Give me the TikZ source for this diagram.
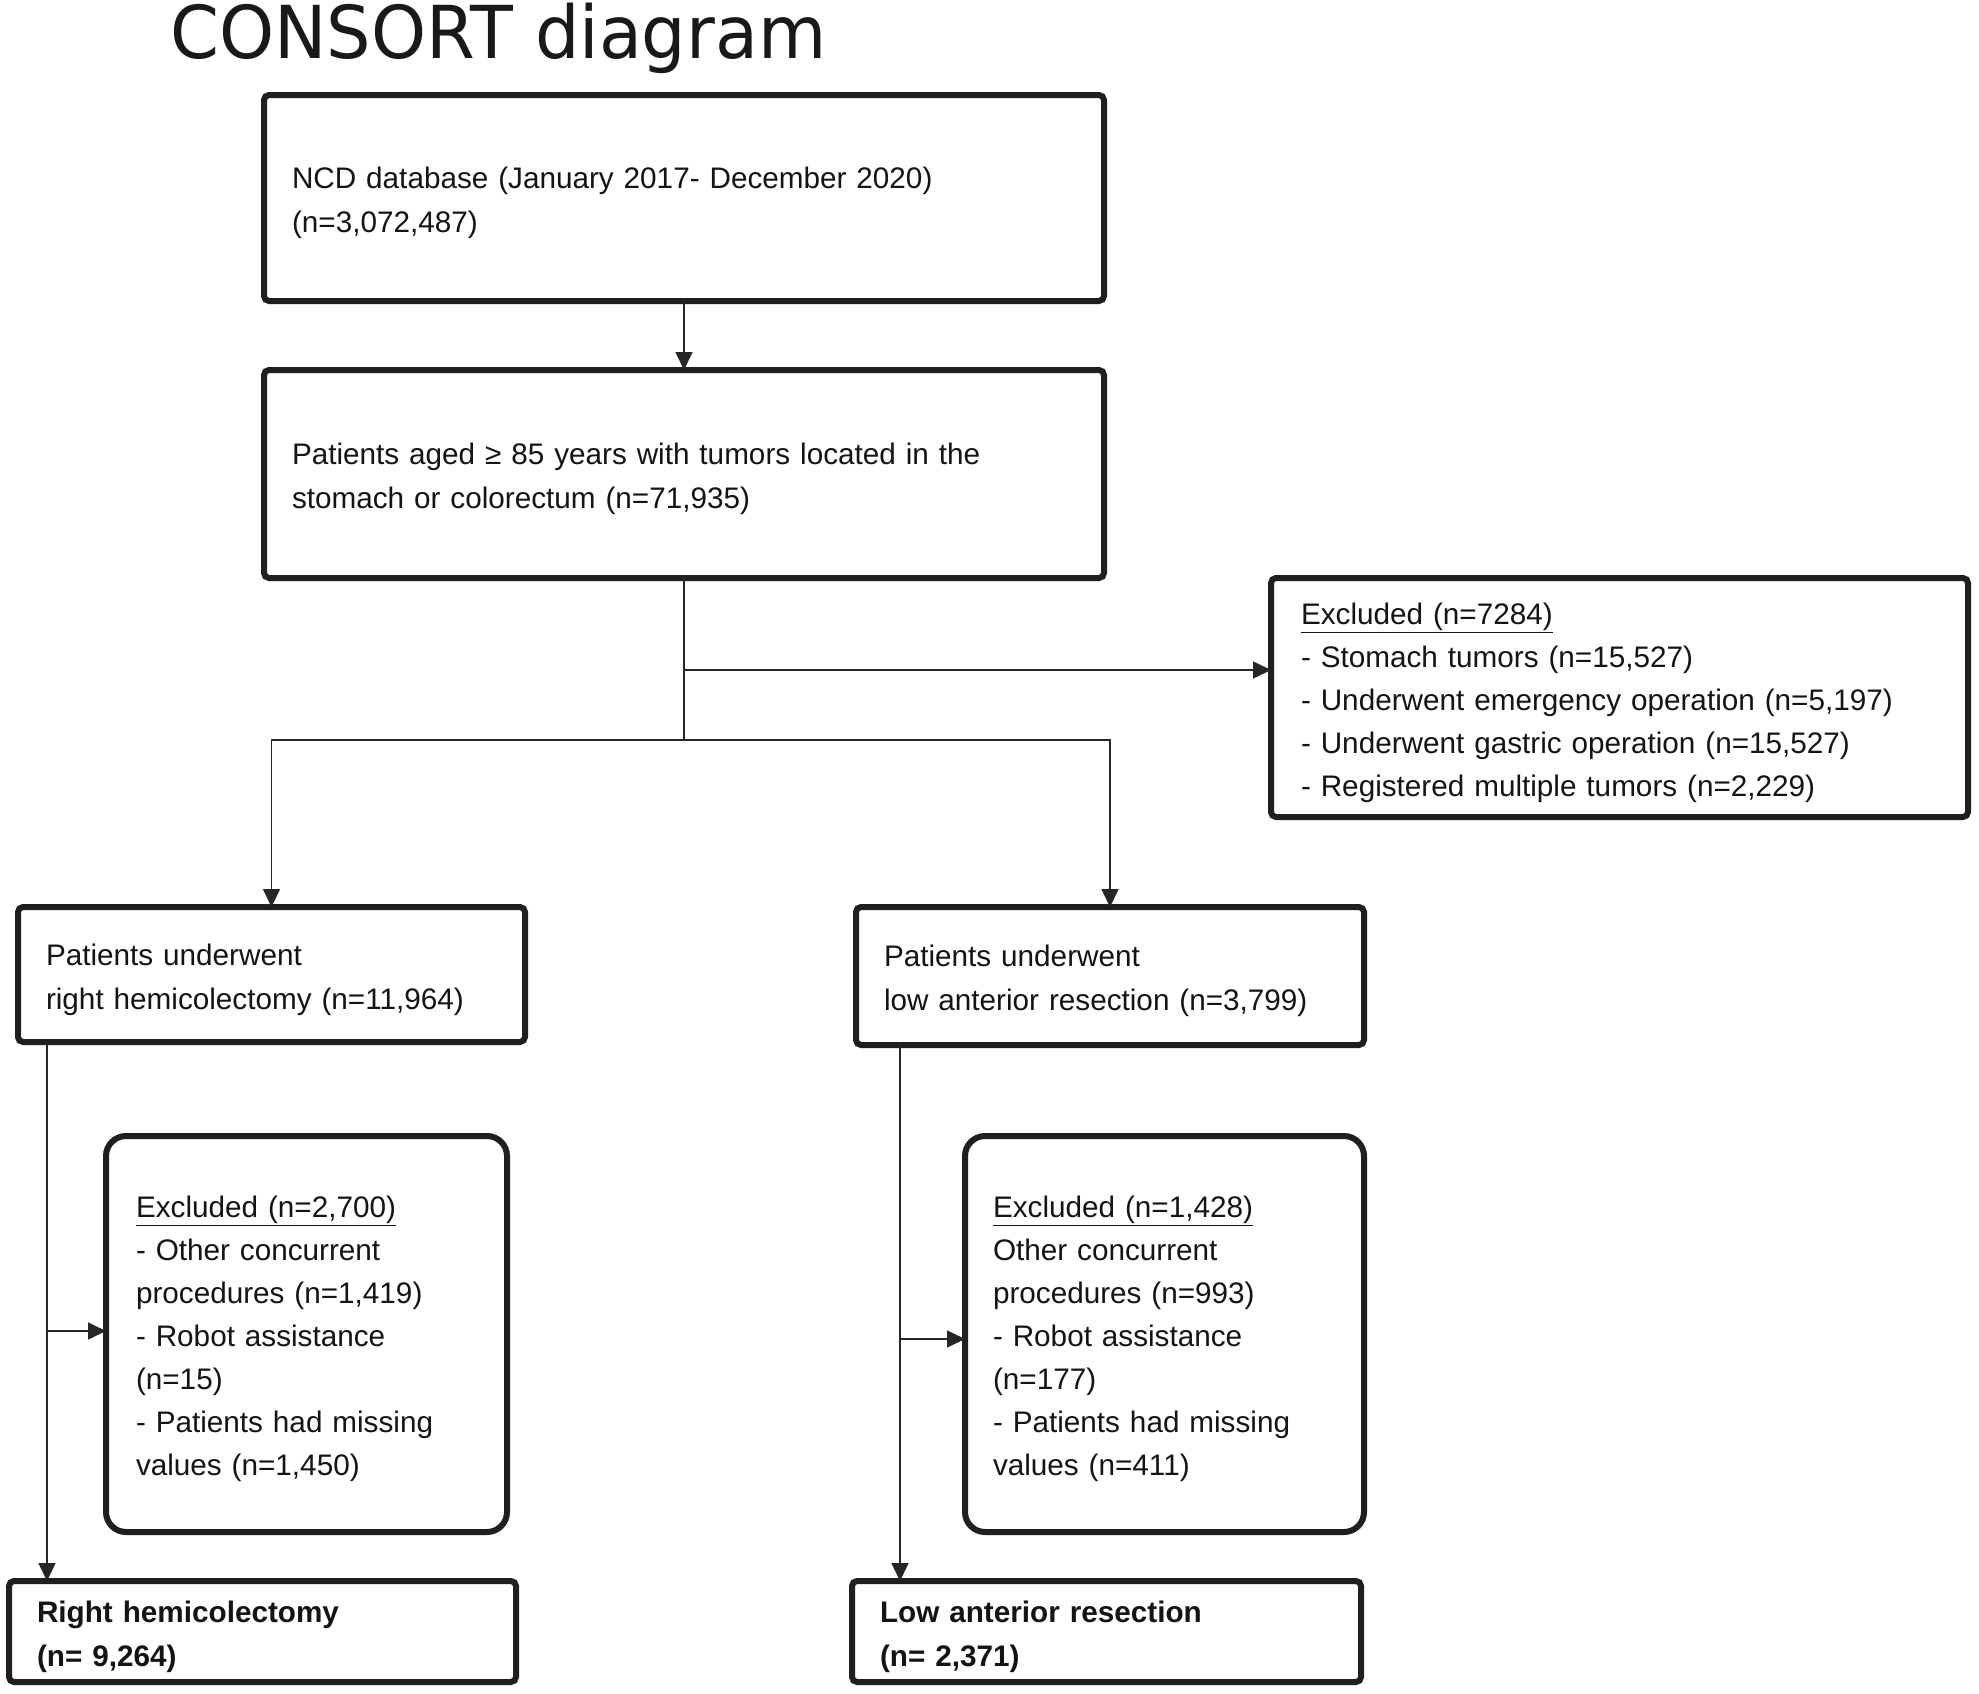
\documentclass[tikz,border=0pt]{standalone}
\usepackage{fontspec}
\setmainfont{Liberation Sans}
\newfontfamily\titlefont[FakeStretch=0.96]{DejaVu Sans}
\usetikzlibrary{arrows.meta}
\newcommand\topstrut{\rule{0pt}{32pt}}
\begin{document}
\begin{tikzpicture}[x=1pt,y=-1pt,
  box/.style={draw=black!88, line width=6pt, rectangle, rounded corners=5pt,
    align=left, inner xsep=28pt, inner ysep=0pt, outer sep=0pt,
    font=\fontsize{29.7}{44}\selectfont, text=black!92, anchor=center},
  exbox/.style={box, rounded corners=20pt, font=\fontsize{29.7}{43}\selectfont},
  boldbox/.style={box, font=\fontsize{29.7}{44}\selectfont\bfseries},
  conn/.style={draw=black!85, line width=1.5pt},
  arr/.style={conn, -{Triangle[length=18pt,width=17pt]}}
]
\useasboundingbox (0,0) rectangle (1979,1694);
\fill[white] (0,0) rectangle (1979,1694);

\node[anchor=base west, inner sep=0pt, text=black!90,
  font=\titlefont\fontsize{73}{80}\selectfont] (title) at (170,59) {CONSORT diagram};

\node[box, minimum width=840pt, minimum height=206pt, text width=784pt] (b1) at (684,198)
  {\topstrut NCD database (January 2017- December 2020)\\(n=3,072,487)};
\node[box, minimum width=840pt, minimum height=208pt, text width=784pt] (b2) at (684,474)
  {\topstrut Patients aged ≥ 85 years with tumors located in the\\stomach or colorectum (n=71,935)};
\node[box, inner xsep=30pt, minimum width=697pt, minimum height=239pt, text width=637pt, font=\fontsize{29.7}{43}\selectfont] (b3) at (1619.5,697.5)
  {\topstrut\underline{Excluded (n=7284)}\\- Stomach tumors (n=15,527)\\- Underwent emergency operation (n=5,197)\\- Underwent gastric operation (n=15,527)\\- Registered multiple tumors (n=2,229)};
\node[box, inner xsep=27pt, minimum width=507pt, minimum height=135pt, text width=451pt] (b4) at (271.5,974.5)
  {\topstrut Patients underwent\\right hemicolectomy (n=11,964)};
\node[box, minimum width=508pt, minimum height=138pt, text width=452pt] (b5) at (1110,976)
  {\topstrut Patients underwent\\low anterior resection (n=3,799)};
\node[exbox, inner xsep=30pt, minimum width=401pt, minimum height=396pt, text width=341pt] (b6) at (306.5,1334)
  {\topstrut\underline{Excluded (n=2,700)}\\- Other concurrent\\procedures (n=1,419)\\- Robot assistance\\(n=15)\\- Patients had missing\\values (n=1,450)};
\node[exbox, minimum width=399pt, minimum height=396pt, text width=343pt] (b7) at (1164.5,1334)
  {\topstrut\underline{Excluded (n=1,428)}\\Other concurrent\\procedures (n=993)\\- Robot assistance\\(n=177)\\- Patients had missing\\values (n=411)};
\node[boldbox, inner xsep=27pt, minimum width=507pt, minimum height=101pt, text width=451pt] (b8) at (262.5,1631.5)
  {\topstrut Right hemicolectomy\\(n= 9,264)};
\node[boldbox, minimum width=509pt, minimum height=101pt, text width=453pt] (b9) at (1106.5,1631.5)
  {\topstrut Low anterior resection\\(n= 2,371)};

\coordinate (j1) at (684,670);
\coordinate (j2) at (684,740);
\coordinate (k1) at (47,1331);
\coordinate (k2) at (900,1339);

\draw[arr] (b1.south) -- (b2.north);
\draw[conn] (b2.south) -- (j2);
\draw[arr] (j1) -- (j1 -| b3.west);
\draw[arr] (j2) -| (b4.north);
\draw[arr] (j2) -| (b5.north);
\draw[arr] (b4.south -| k1) -- (b8.north -| k1);
\draw[arr] (k1) -- (k1 -| b6.west);
\draw[arr] (b5.south -| k2) -- (b9.north -| k2);
\draw[arr] (k2) -- (k2 -| b7.west);
\end{tikzpicture}
\end{document}
